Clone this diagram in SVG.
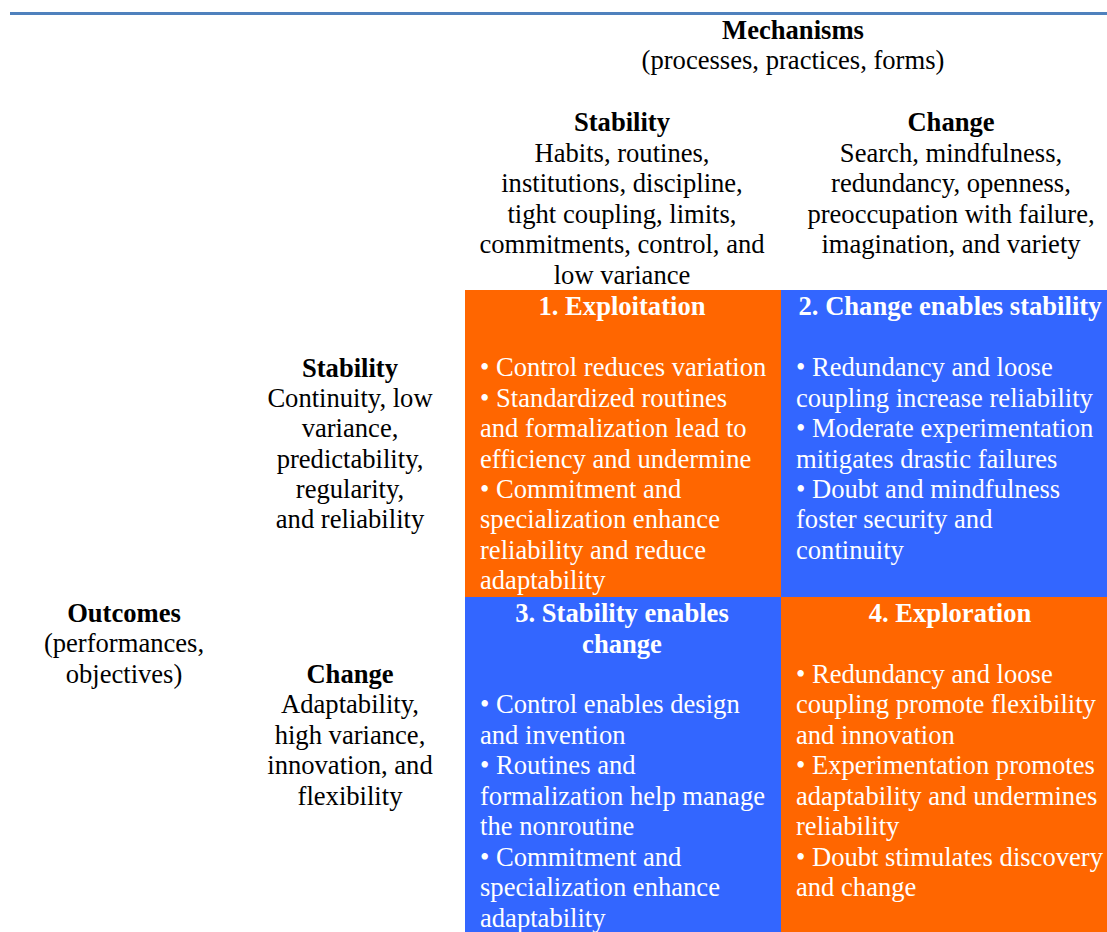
<svg xmlns="http://www.w3.org/2000/svg" width="1107" height="932" viewBox="0 0 1107 932">
<style>
.t { font-family: "Liberation Serif", "Times New Roman", serif; font-size: 26.6px; }
.b { font-weight: bold; }
.c { text-anchor: middle; fill: #000; }
.w { fill: #fff; }
.wc { fill: #fff; text-anchor: middle; font-weight: bold; }
.or { fill: #FF6600; }
.bl { fill: #3366FF; }
</style>
<rect x="0" y="0" width="1107" height="932" fill="#fff"/>
<line x1="10" y1="13.5" x2="1107" y2="13.5" stroke="#4F81BD" stroke-width="3"/>
<g class="t">

<g id="header-mechanisms">
<text class="c b" x="793" y="38.5">Mechanisms</text>
<text class="c" x="793" y="68.5">(processes, practices, forms)</text>
</g>

<g id="header-stability">
<text class="c b" x="622" y="131">Stability</text>
<text class="c" x="622" y="161.5">Habits, routines,</text>
<text class="c" x="622" y="192">institutions, discipline,</text>
<text class="c" x="622" y="222.5">tight coupling, limits,</text>
<text class="c" x="622" y="253">commitments, control, and</text>
<text class="c" x="622" y="283.5">low variance</text>
</g>

<g id="header-change">
<text class="c b" x="951" y="131">Change</text>
<text class="c" x="951" y="161.5">Search, mindfulness,</text>
<text class="c" x="951" y="192">redundancy, openness,</text>
<text class="c" x="951" y="222.5">preoccupation with failure,</text>
<text class="c" x="951" y="253">imagination, and variety</text>
</g>

<g id="row-stability">
<text class="c b" x="350" y="376.5">Stability</text>
<text class="c" x="350" y="406.5">Continuity, low</text>
<text class="c" x="350" y="437">variance,</text>
<text class="c" x="350" y="467.5">predictability,</text>
<text class="c" x="350" y="498">regularity,</text>
<text class="c" x="350" y="528">and reliability</text>
</g>

<g id="row-outcomes">
<text class="c b" x="124" y="621.5">Outcomes</text>
<text class="c" x="124" y="652">(performances,</text>
<text class="c" x="124" y="682.5">objectives)</text>
</g>

<g id="row-change">
<text class="c b" x="350" y="682.5">Change</text>
<text class="c" x="350" y="713">Adaptability,</text>
<text class="c" x="350" y="743.5">high variance,</text>
<text class="c" x="350" y="774">innovation, and</text>
<text class="c" x="350" y="804.5">flexibility</text>
</g>

<g id="cell-1">
<rect class="or" x="465" y="290" width="316" height="307"/>
<text class="wc" x="622" y="314.5">1. Exploitation</text>
<text class="w" x="480" y="376">• Control reduces variation</text>
<text class="w" x="480" y="406.5">• Standardized routines</text>
<text class="w" x="480" y="437">and formalization lead to</text>
<text class="w" x="480" y="467.5">efficiency and undermine</text>
<text class="w" x="480" y="498">• Commitment and</text>
<text class="w" x="480" y="528">specialization enhance</text>
<text class="w" x="480" y="558.5">reliability and reduce</text>
<text class="w" x="480" y="589">adaptability</text>
</g>

<g id="cell-2">
<rect class="bl" x="781" y="290" width="326" height="307"/>
<text class="wc" x="950" y="314.5">2. Change enables stability</text>
<text class="w" x="796" y="376">• Redundancy and loose</text>
<text class="w" x="796" y="406.5">coupling increase reliability</text>
<text class="w" x="796" y="437">• Moderate experimentation</text>
<text class="w" x="796" y="467.5">mitigates drastic failures</text>
<text class="w" x="796" y="498">• Doubt and mindfulness</text>
<text class="w" x="796" y="528">foster security and</text>
<text class="w" x="796" y="558.5">continuity</text>
</g>

<g id="cell-3">
<rect class="bl" x="465" y="597" width="316" height="335"/>
<text class="wc" x="622" y="622">3. Stability enables</text>
<text class="wc" x="622" y="652.5">change</text>
<text class="w" x="480" y="713">• Control enables design</text>
<text class="w" x="480" y="743.5">and invention</text>
<text class="w" x="480" y="774">• Routines and</text>
<text class="w" x="480" y="804.5">formalization help manage</text>
<text class="w" x="480" y="835">the nonroutine</text>
<text class="w" x="480" y="865.5">• Commitment and</text>
<text class="w" x="480" y="896">specialization enhance</text>
<text class="w" x="480" y="926.5">adaptability</text>
</g>

<g id="cell-4">
<rect class="or" x="781" y="597" width="326" height="335"/>
<text class="wc" x="950" y="622">4. Exploration</text>
<text class="w" x="796" y="682.5">• Redundancy and loose</text>
<text class="w" x="796" y="713">coupling promote flexibility</text>
<text class="w" x="796" y="743.5">and innovation</text>
<text class="w" x="796" y="774">• Experimentation promotes</text>
<text class="w" x="796" y="804.5">adaptability and undermines</text>
<text class="w" x="796" y="835">reliability</text>
<text class="w" x="796" y="865.5">• Doubt stimulates discovery</text>
<text class="w" x="796" y="896">and change</text>
</g>
</g>
<g id="connectors"></g>
</svg>
